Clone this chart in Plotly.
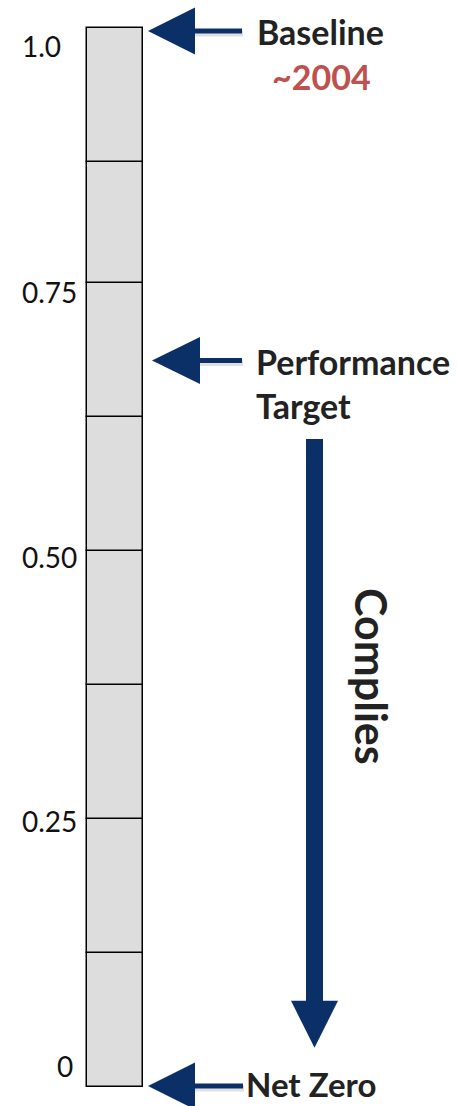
import plotly.graph_objects as go

# Scale values
segment_edges = [0, 0.127, 0.253, 0.380, 0.506, 0.633, 0.759, 0.873, 1.0]
tick_values = [1.0, 0.75, 0.50, 0.25, 0]
tick_labels = ["1.0", "0.75", "0.50", "0.25", "0"]

# Markers pointing at the scale
marker_names = ["Baseline", "Performance<br>Target", "Net Zero"]
marker_values = [1.0, 0.686, 0.0]
baseline_year = "~2004"

# Direction arrow ("Complies"), from / tip, and label position
complies_from = 0.612
complies_tip = 0.037
complies_label_at = 0.388

# ---- layout constants ----
W, H = 457, 1106
PX = 1059.0                      # pixels per unit on the scale
Y_BOTTOM_PX = 1087               # pixel row of value 0
y_min = -(H - Y_BOTTOM_PX) / PX
y_max = y_min + H / PX

NAVY = "#0b3068"
RED = "#c0504d"
FONT = "Lato"


def dy(px):
    return px / PX


fig = go.Figure()

# Segmented scale bar
for lo, hi in zip(segment_edges[:-1], segment_edges[1:]):
    fig.add_trace(go.Bar(
        x=[115], y=[hi - lo], base=[lo], width=[56],
        marker=dict(color="#dddddd", line=dict(color="black", width=1.5)),
        hoverinfo="skip", showlegend=False,
    ))

shapes = []


def left_arrow(v, tip_x, head_len, head_half_px, shaft_end, shaft_px=5):
    base_x = tip_x + head_len
    hh = dy(head_half_px)
    sw = dy(shaft_px / 2)
    # soft shadow
    shapes.append(dict(type="rect", xref="x", yref="y",
                       x0=base_x - 1, x1=shaft_end + 1,
                       y0=v - sw - dy(3), y1=v + sw - dy(2),
                       fillcolor="rgba(0,0,0,0.12)", line=dict(width=0), layer="above"))
    shapes.append(dict(type="rect", xref="x", yref="y",
                       x0=base_x - 1, x1=shaft_end, y0=v - sw, y1=v + sw,
                       fillcolor=NAVY, line=dict(width=0), layer="above"))
    shapes.append(dict(type="path", xref="x", yref="y",
                       path=f"M {tip_x},{v} L {base_x},{v + hh} L {base_x},{v - hh} Z",
                       fillcolor=NAVY, line=dict(width=0), layer="above"))


left_arrow(marker_values[0] - dy(3), 148, 47, 23.5, 242)
left_arrow(marker_values[1], 152, 48, 23.5, 242)
left_arrow(marker_values[2] + dy(1), 148, 47, 23.5, 243)

# Big downward arrow
head_top = complies_tip + dy(47)
shapes.append(dict(type="rect", xref="x", yref="y",
                   x0=306, x1=323, y0=head_top - dy(1), y1=complies_from,
                   fillcolor=NAVY, line=dict(width=0), layer="above"))
shapes.append(dict(type="path", xref="x", yref="y",
                   path=f"M 314.5,{complies_tip} L 291,{head_top} L 338,{head_top} Z",
                   fillcolor=NAVY, line=dict(width=0), layer="above"))

annotations = []

# Tick labels
for val, lab in zip(tick_values, tick_labels):
    if val == 1.0:
        ya, xa, xx, ys = "top", "left", 20, 1
    elif val == 0:
        ya, xa, xx, ys = "bottom", "right", 75, 2
    else:
        ya, xa, xx, ys = "middle", "left", 20, 1
    annotations.append(dict(x=xx, y=val, xref="x", yref="y", text=lab,
                            showarrow=False, xanchor=xa, yanchor=ya, yshift=ys,
                            font=dict(family=FONT, size=28, color="#111111")))

bold = dict(family=FONT, size=34, color="#222222", weight="bold")

annotations.append(dict(x=320, y=marker_values[0], xref="x", yref="y",
                        text="<b>Baseline</b>", showarrow=False,
                        xanchor="center", yanchor="middle", yshift=-3, font=bold))
annotations.append(dict(x=321, y=marker_values[0], xref="x", yref="y",
                        text=f"<b>{baseline_year}</b>", showarrow=False,
                        xanchor="center", yanchor="middle", yshift=-48,
                        font=dict(family=FONT, size=34, color=RED)))
annotations.append(dict(x=254, y=marker_values[1], xref="x", yref="y",
                        text="<b>Performance</b>", showarrow=False,
                        xanchor="left", yanchor="middle", yshift=-1, font=bold))
annotations.append(dict(x=254, y=marker_values[1], xref="x", yref="y",
                        text="<b>Target</b>", showarrow=False,
                        xanchor="left", yanchor="middle", yshift=-45, font=bold))
annotations.append(dict(x=244, y=marker_values[2], xref="x", yref="y",
                        text="<b>Net Zero</b>", showarrow=False,
                        xanchor="left", yanchor="middle", yshift=3,
                        font=dict(family=FONT, size=33, color="#222222", weight="bold")))
annotations.append(dict(x=372, y=complies_label_at, xref="x", yref="y",
                        text="<b>Complies</b>", showarrow=False, textangle=90,
                        xanchor="center", yanchor="middle",
                        font=dict(family=FONT, size=43, color="#222222")))

fig.update_layout(
    width=W, height=H,
    margin=dict(l=0, r=0, t=0, b=0),
    paper_bgcolor="white", plot_bgcolor="white",
    barmode="overlay", bargap=0,
    xaxis=dict(range=[0, W], visible=False, fixedrange=True),
    yaxis=dict(range=[y_min, y_max], visible=False, fixedrange=True),
    shapes=shapes, annotations=annotations,
    showlegend=False,
)

fig.write_html("out.html")
